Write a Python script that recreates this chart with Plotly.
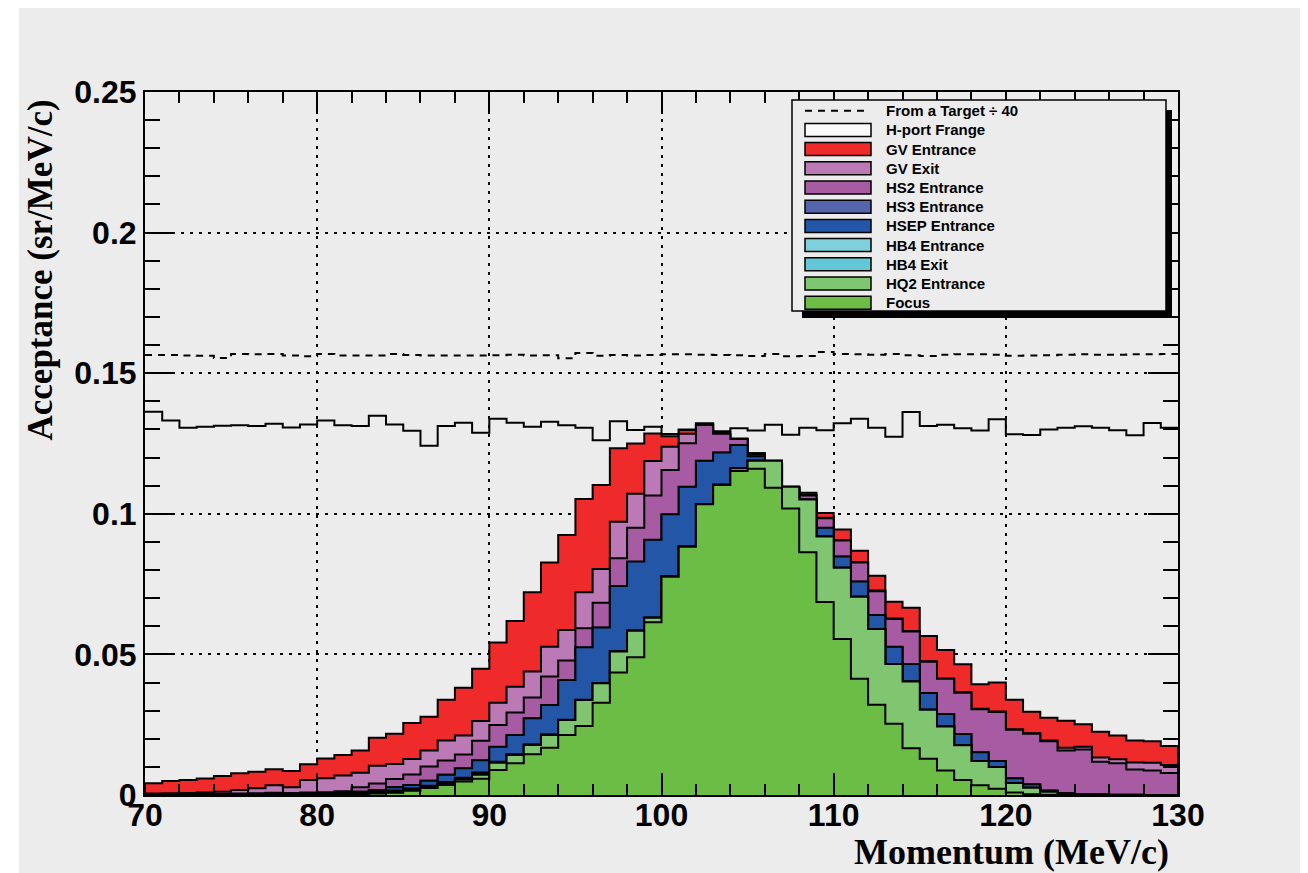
import plotly.graph_objects as go

# ---------------- data (bin edges 70..130 MeV/c, 1 MeV/c bins) ----------------
edges = list(range(70, 131))

target_div40 = [0.1565, 0.1565, 0.1563, 0.1562, 0.1554, 0.1568, 0.1567, 0.1568, 0.1563, 0.1560,
                0.1568, 0.1563, 0.1563, 0.1563, 0.1568, 0.1565, 0.1563, 0.1563, 0.1563, 0.1563,
                0.1564, 0.1566, 0.1563, 0.1564, 0.1553, 0.1572, 0.1562, 0.1565, 0.1563, 0.1565,
                0.1567, 0.1567, 0.1566, 0.1565, 0.1564, 0.1561, 0.1568, 0.1560, 0.1561, 0.1575,
                0.1568, 0.1567, 0.1566, 0.1568, 0.1564, 0.1561, 0.1566, 0.1567, 0.1567, 0.1566,
                0.1562, 0.1563, 0.1564, 0.1566, 0.1567, 0.1566, 0.1566, 0.1567, 0.1567, 0.1568]

hport_frange = [0.1363, 0.1332, 0.1306, 0.1310, 0.1313, 0.1315, 0.1312, 0.1320, 0.1307, 0.1318,
                0.1332, 0.1315, 0.1312, 0.1349, 0.1318, 0.1295, 0.1242, 0.1312, 0.1324, 0.1288,
                0.1338, 0.1324, 0.1310, 0.1327, 0.1315, 0.1306, 0.1262, 0.1329, 0.1298, 0.1310,
                0.1284, 0.1300, 0.1319, 0.1294, 0.1304, 0.1296, 0.1317, 0.1281, 0.1306, 0.1297,
                0.1322, 0.1338, 0.1306, 0.1274, 0.1362, 0.1312, 0.1317, 0.1304, 0.1296, 0.1336,
                0.1283, 0.1280, 0.1300, 0.1306, 0.1311, 0.1306, 0.1297, 0.1279, 0.1323, 0.1306]

gv_entrance = [0.0042, 0.0050, 0.0053, 0.0059, 0.0068, 0.0077, 0.0083, 0.0092, 0.0085, 0.0109,
               0.0130, 0.0142, 0.0158, 0.0204, 0.0218, 0.0256, 0.0278, 0.0339, 0.0381, 0.0449,
               0.0542, 0.0619, 0.0721, 0.0827, 0.0925, 0.1053, 0.1102, 0.1233, 0.1250, 0.1286,
               0.1276, 0.1298, 0.1300, 0.1280, 0.1265, 0.1215, 0.1185, 0.1090, 0.1075, 0.1003,
               0.0944, 0.0869, 0.0780, 0.0687, 0.0666, 0.0565, 0.0516, 0.0465, 0.0394, 0.0400,
               0.0339, 0.0296, 0.0275, 0.0264, 0.0252, 0.0225, 0.0212, 0.0194, 0.0191, 0.0174]

gv_exit = [0.0005, 0.0006, 0.0007, 0.0009, 0.0012, 0.0018, 0.0024, 0.0035, 0.0028, 0.0053,
           0.0060, 0.0069, 0.0079, 0.0104, 0.0110, 0.0128, 0.0158, 0.0194, 0.0212, 0.0263,
           0.0328, 0.0385, 0.0439, 0.0527, 0.0587, 0.0721, 0.0804, 0.0972, 0.1071, 0.1188,
           0.1238, 0.1285, 0.1322, 0.1290, 0.1268, 0.1215, 0.1185, 0.1092, 0.1068, 0.0986,
           0.0906, 0.0829, 0.0727, 0.0628, 0.0583, 0.0476, 0.0413, 0.0366, 0.0307, 0.0297,
           0.0234, 0.0220, 0.0194, 0.0168, 0.0172, 0.0133, 0.0127, 0.0116, 0.0115, 0.0107]

hs2_entrance = [0.0002, 0.0002, 0.0003, 0.0003, 0.0004, 0.0005, 0.0006, 0.0008, 0.0007, 0.0009,
                0.0010, 0.0013, 0.0028, 0.0041, 0.0057, 0.0073, 0.0101, 0.0123, 0.0144, 0.0193,
                0.0249, 0.0293, 0.0347, 0.0421, 0.0478, 0.0593, 0.0684, 0.0842, 0.0950, 0.1065,
                0.1156, 0.1251, 0.1316, 0.1285, 0.1266, 0.1213, 0.1184, 0.1091, 0.1065, 0.0984,
                0.0905, 0.0827, 0.0725, 0.0626, 0.0581, 0.0474, 0.0413, 0.0364, 0.0305, 0.0295,
                0.0232, 0.0218, 0.0191, 0.0158, 0.0162, 0.0118, 0.0113, 0.0091, 0.0087, 0.0078]

hs3_entrance = [0.0001, 0.0001, 0.0001, 0.0002, 0.0002, 0.0002, 0.0003, 0.0003, 0.0004, 0.0005,
                0.0006, 0.0008, 0.0012, 0.0018, 0.0028, 0.0036, 0.0051, 0.0072, 0.0094, 0.0123,
                0.0171, 0.0212, 0.0272, 0.0319, 0.0408, 0.0524, 0.0595, 0.0742, 0.0829, 0.0907,
                0.0997, 0.1095, 0.1188, 0.1217, 0.1244, 0.1204, 0.1179, 0.1084, 0.1044, 0.0949,
                0.0847, 0.0758, 0.0639, 0.0526, 0.0465, 0.0362, 0.0287, 0.0216, 0.0151, 0.0120,
                0.0059, 0.0037, 0.0015, 0.0006, 0.0003, 0.0002, 0.0001, 0.0001, 0.0000, 0.0000]

hsep_entrance = [0.0001, 0.0001, 0.0001, 0.0002, 0.0002, 0.0002, 0.0003, 0.0003, 0.0004, 0.0005,
                 0.0006, 0.0008, 0.0012, 0.0018, 0.0028, 0.0036, 0.0051, 0.0072, 0.0095, 0.0124,
                 0.0172, 0.0213, 0.0273, 0.0320, 0.0409, 0.0525, 0.0596, 0.0743, 0.0830, 0.0908,
                 0.0998, 0.1096, 0.1189, 0.1218, 0.1245, 0.1205, 0.1180, 0.1085, 0.1045, 0.0950,
                 0.0848, 0.0759, 0.0640, 0.0527, 0.0466, 0.0363, 0.0288, 0.0217, 0.0152, 0.0121,
                 0.0060, 0.0038, 0.0016, 0.0006, 0.0003, 0.0002, 0.0001, 0.0001, 0.0000, 0.0000]

hb4_entrance = [0.0000, 0.0000, 0.0001, 0.0001, 0.0001, 0.0002, 0.0002, 0.0003, 0.0003, 0.0004,
                0.0005, 0.0006, 0.0008, 0.0011, 0.0016, 0.0023, 0.0033, 0.0046, 0.0061, 0.0080,
                0.0118, 0.0145, 0.0180, 0.0215, 0.0268, 0.0339, 0.0398, 0.0511, 0.0585, 0.0631,
                0.0778, 0.0884, 0.1035, 0.1103, 0.1162, 0.1189, 0.1189, 0.1096, 0.1051, 0.0919,
                0.0808, 0.0705, 0.0590, 0.0466, 0.0404, 0.0303, 0.0244, 0.0177, 0.0121, 0.0100,
                0.0043, 0.0026, 0.0012, 0.0004, 0.0002, 0.0001, 0.0000, 0.0000, 0.0000, 0.0000]

hb4_exit = [0.0000, 0.0000, 0.0001, 0.0001, 0.0001, 0.0001, 0.0002, 0.0002, 0.0003, 0.0003,
            0.0004, 0.0005, 0.0007, 0.0010, 0.0014, 0.0021, 0.0031, 0.0043, 0.0058, 0.0076,
            0.0116, 0.0143, 0.0179, 0.0214, 0.0267, 0.0338, 0.0397, 0.0510, 0.0584, 0.0630,
            0.0778, 0.0884, 0.1035, 0.1103, 0.1162, 0.1189, 0.1189, 0.1096, 0.1051, 0.0919,
            0.0808, 0.0705, 0.0590, 0.0466, 0.0404, 0.0303, 0.0244, 0.0177, 0.0121, 0.0100,
            0.0043, 0.0026, 0.0012, 0.0004, 0.0002, 0.0001, 0.0000, 0.0000, 0.0000, 0.0000]

hq2_entrance = [0.0000, 0.0000, 0.0001, 0.0001, 0.0001, 0.0001, 0.0002, 0.0002, 0.0003, 0.0003,
                0.0004, 0.0005, 0.0006, 0.0008, 0.0012, 0.0019, 0.0028, 0.0040, 0.0055, 0.0072,
                0.0115, 0.0142, 0.0178, 0.0213, 0.0267, 0.0338, 0.0397, 0.0510, 0.0584, 0.0630,
                0.0778, 0.0884, 0.1035, 0.1103, 0.1162, 0.1189, 0.1189, 0.1096, 0.1051, 0.0919,
                0.0808, 0.0705, 0.0590, 0.0466, 0.0404, 0.0303, 0.0244, 0.0177, 0.0121, 0.0100,
                0.0043, 0.0026, 0.0012, 0.0004, 0.0002, 0.0001, 0.0000, 0.0000, 0.0000, 0.0000]

focus = [0.0000, 0.0000, 0.0000, 0.0000, 0.0001, 0.0001, 0.0001, 0.0001, 0.0002, 0.0002,
         0.0003, 0.0003, 0.0004, 0.0005, 0.0008, 0.0015, 0.0025, 0.0036, 0.0048, 0.0058,
         0.0089, 0.0113, 0.0145, 0.0168, 0.0213, 0.0245, 0.0328, 0.0436, 0.0490, 0.0614,
         0.0776, 0.0883, 0.1034, 0.1102, 0.1152, 0.1160, 0.1093, 0.1019, 0.0863, 0.0686,
         0.0555, 0.0413, 0.0321, 0.0253, 0.0166, 0.0129, 0.0087, 0.0053, 0.0035, 0.0022,
         0.0009, 0.0003, 0.0001, 0.0000, 0.0000, 0.0000, 0.0000, 0.0000, 0.0000, 0.0000]

filled_series = [
    ("GV Entrance", gv_entrance, "#EE2A2A"),
    ("GV Exit", gv_exit, "#BB7AB5"),
    ("HS2 Entrance", hs2_entrance, "#A65BA2"),
    ("HS3 Entrance", hs3_entrance, "#5465AE"),
    ("HSEP Entrance", hsep_entrance, "#2356A7"),
    ("HB4 Entrance", hb4_entrance, "#7ED1DA"),
    ("HB4 Exit", hb4_exit, "#62C7D7"),
    ("HQ2 Entrance", hq2_entrance, "#80C671"),
    ("Focus", focus, "#6CBD45"),
]

BG = "#ECECEC"
OFF = 8                      # page body margin
W, H = 1308 - OFF, 873 - OFF
# plot-area edges in screen pixels
L, R, T, B = 145, 1178, 92, 795


def px(x):
    return (x - L) / (R - L)


def py(y):
    return (B - y) / (B - T)


fig = go.Figure()

# unfilled histograms
fig.add_trace(go.Scatter(x=edges, y=target_div40 + [target_div40[-1]], mode="lines",
                         line=dict(shape="hv", color="black", width=2, dash="7px,6px"),
                         name="From a Target ÷ 40", hoverinfo="skip"))
fig.add_trace(go.Scatter(x=edges, y=hport_frange + [hport_frange[-1]], mode="lines",
                         line=dict(shape="hv", color="black", width=2),
                         name="H-port Frange", hoverinfo="skip"))

# filled histograms drawn in order (largest first)
for name, vals, col in filled_series:
    xs = [edges[0]] + edges + [edges[-1]]
    ys = [0] + vals + [vals[-1]] + [0]
    fig.add_trace(go.Scatter(x=xs, y=ys, mode="lines", fill="tozeroy", fillcolor=col,
                             line=dict(shape="hv", color="black", width=2),
                             name=name, hoverinfo="skip"))

shapes = []
annotations = []

# canvas: white outer margins
shapes.append(dict(type="rect", xref="paper", yref="paper", layer="below",
                   x0=px(0), x1=px(19), y0=py(900), y1=py(0), fillcolor="white", line=dict(width=0)))
shapes.append(dict(type="rect", xref="paper", yref="paper", layer="below",
                   x0=px(1301), x1=px(1320), y0=py(900), y1=py(0), fillcolor="white", line=dict(width=0)))

# legend: shadow + box
lx0, lx1, ly0, ly1 = 792, 1166, 100, 311
shapes.append(dict(type="rect", xref="paper", yref="paper", layer="above",
                   x0=px(lx0 + 10), x1=px(lx1 + 6), y0=py(ly1 + 7), y1=py(ly0 + 10),
                   fillcolor="black", line=dict(width=0)))
shapes.append(dict(type="rect", xref="paper", yref="paper", layer="above",
                   x0=px(lx0), x1=px(lx1), y0=py(ly1), y1=py(ly0),
                   fillcolor=BG, line=dict(color="black", width=1.5)))

legend_items = [("From a Target ÷ 40", "dash", None), ("H-port Frange", "box", "#FAFAFA")] + \
               [(n, "box", c) for n, _, c in filled_series]
row0, step = 110.7, 19.2
for i, (label, kind, col) in enumerate(legend_items):
    yc = row0 + i * step
    if kind == "dash":
        shapes.append(dict(type="line", xref="paper", yref="paper", layer="above",
                           x0=px(805), x1=px(870), y0=py(yc), y1=py(yc),
                           line=dict(color="black", width=2, dash="7px,6px")))
    else:
        shapes.append(dict(type="rect", xref="paper", yref="paper", layer="above",
                           x0=px(805), x1=px(871), y0=py(yc + 6.5), y1=py(yc - 6.5),
                           fillcolor=col, line=dict(color="black", width=1.5)))
    annotations.append(dict(text=label, xref="paper", yref="paper", x=px(884), y=py(yc),
                            xanchor="left", yanchor="middle", showarrow=False,
                            font=dict(family="Liberation Sans, Arial, sans-serif", size=15,
                                      color="black", weight="bold")))

# axis titles
annotations.append(dict(text="Acceptance (sr/MeV/c)", xref="paper", yref="paper",
                        x=px(40), y=py(98), xanchor="center", yanchor="top", textangle=-90,
                        showarrow=False,
                        font=dict(family="Liberation Serif, Times New Roman, serif", size=35,
                                  color="black", weight="bold")))
annotations.append(dict(text="Momentum (MeV/c)", xref="paper", yref="paper",
                        x=px(1171), y=py(852), xanchor="right", yanchor="middle",
                        showarrow=False,
                        font=dict(family="Liberation Serif, Times New Roman, serif", size=36,
                                  color="black", weight="bold")))

tickfont = dict(family="Liberation Sans, Arial, sans-serif", size=32, color="black", weight="bold")

fig.update_layout(
    width=W, height=H,
    margin=dict(l=L - OFF, r=W - (R - OFF), t=T - OFF, b=H - (B - OFF), autoexpand=False),
    paper_bgcolor=BG, plot_bgcolor=BG,
    showlegend=False,
    shapes=shapes, annotations=annotations,
    xaxis=dict(range=[70, 130], dtick=10, tick0=70, ticks="inside", ticklen=22, tickwidth=2,
               tickcolor="black", showline=True, linecolor="black", linewidth=2, mirror="ticks",
               showgrid=True, gridcolor="black", gridwidth=2, griddash="3px,6px",
               zeroline=False, tickfont=tickfont, ticklabelstandoff=-9,
               minor=dict(dtick=2, ticks="inside", ticklen=11, tickwidth=2, tickcolor="black",
                          showgrid=False)),
    yaxis=dict(range=[0, 0.25], dtick=0.05, tick0=0, ticks="inside", ticklen=30, tickwidth=2,
               tickcolor="black", showline=True, linecolor="black", linewidth=2, mirror="ticks",
               showgrid=True, gridcolor="black", gridwidth=2, griddash="3px,6px",
               zeroline=False, tickfont=tickfont,
               minor=dict(dtick=0.01, ticks="inside", ticklen=15, tickwidth=2, tickcolor="black",
                          showgrid=False)),
)

fig.write_html("out.html")
